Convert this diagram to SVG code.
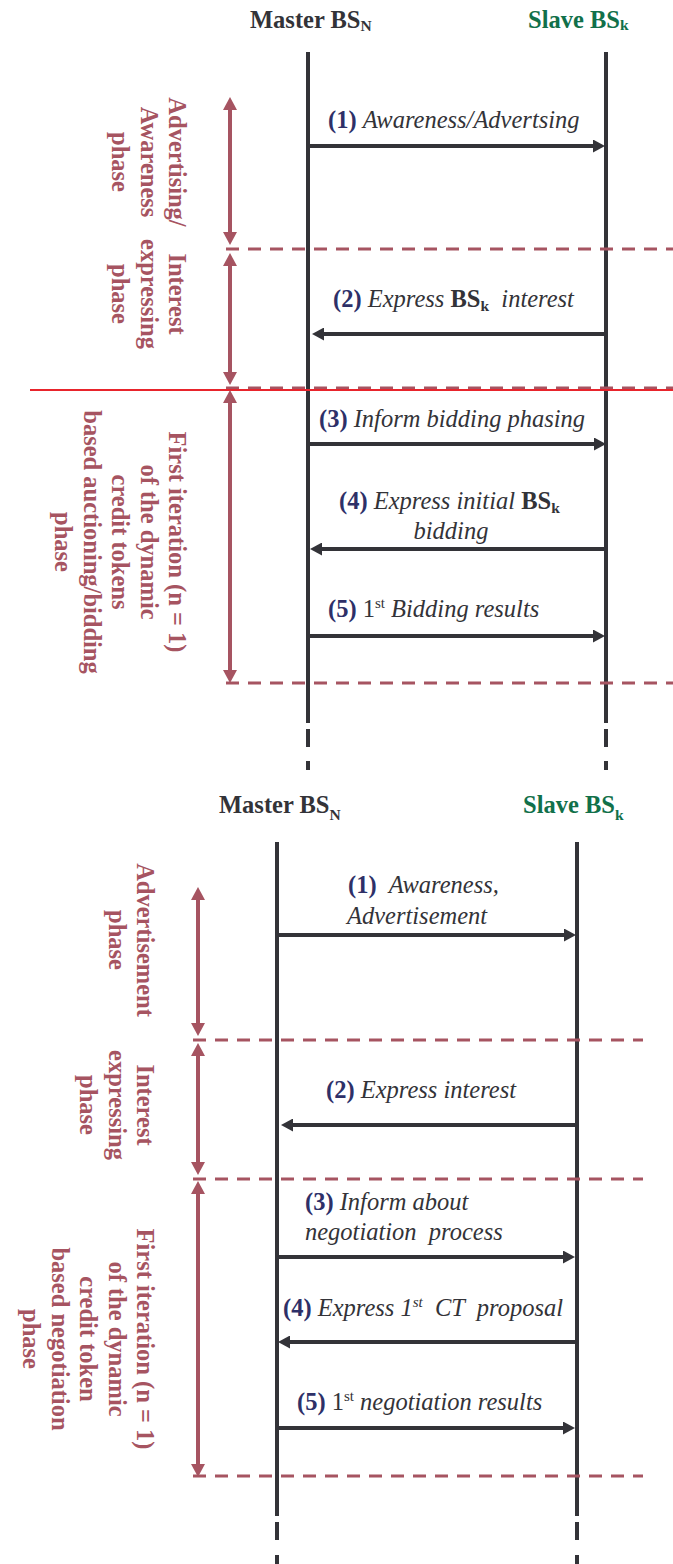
<svg xmlns="http://www.w3.org/2000/svg" width="673" height="1564" viewBox="0 0 673 1564">
<style>
text{font-family:"Liberation Serif","Times New Roman",serif;font-size:24.5px}
.hdr{font-weight:bold;fill:#333338}
.slv{font-weight:bold;fill:#11704a}
.ph{font-weight:bold;fill:#a65461}
.lbl{fill:#333338}
.num{font-weight:bold;font-style:normal;fill:#2e3068}
.it{font-style:italic}
.b{font-weight:bold;font-style:normal}
.life{stroke:#333338;stroke-width:4;fill:none}
.msg{stroke:#333338;stroke-width:4;fill:none;marker-end:url(#ah)}
.sep{stroke:#a65461;stroke-width:3;stroke-dasharray:13 9;fill:none}
.phase{stroke:#a65461;stroke-width:4;fill:none;marker-start:url(#ph);marker-end:url(#ph)}
</style>
<defs>
<marker id="ah" markerUnits="userSpaceOnUse" markerWidth="13" markerHeight="13" refX="4" refY="6.5" orient="auto"><path d="M0,0 L12,6.5 L0,13 z" fill="#333338"/></marker>
<marker id="ph" markerUnits="userSpaceOnUse" markerWidth="14" markerHeight="15" refX="4" refY="7" orient="auto-start-reverse"><path d="M0,0 L13,7 L0,14 z" fill="#a65461"/></marker>
</defs>

<g id="top-master">
<text class="hdr" x="250" y="28">Master BS<tspan font-size="15.5" dy="3">N</tspan></text>
<path class="life" d="M308,52 V723 M308,729 V747 M308,761 V770"/>
</g>
<g id="top-slave">
<text class="slv" x="528" y="28">Slave BS<tspan font-size="15.5" dy="2">k</tspan></text>
<path class="life" d="M606,52 V723 M606,729 V747 M606,761 V770"/>
</g>

<g id="top-phases">
<path class="sep" d="M226,249 H673 M226,388 H673 M226,683 H673"/>
<line x1="30" y1="390" x2="673" y2="390" stroke="#e8242c" stroke-width="2"/>
<path class="phase" d="M230,106 V236"/>
<path class="phase" d="M230,262 V376"/>
<path class="phase" d="M230,399 V674"/>
<text class="ph" text-anchor="middle" transform="translate(169,162) rotate(90)"><tspan x="0" y="0">Advertising/</tspan><tspan x="0" y="28.5">Awareness</tspan><tspan x="0" y="57">phase</tspan></text>
<text class="ph" text-anchor="middle" transform="translate(169,294) rotate(90)"><tspan x="0" y="0">Interest</tspan><tspan x="0" y="28.5">expressing</tspan><tspan x="0" y="57">phase</tspan></text>
<text class="ph" text-anchor="middle" transform="translate(169,542) rotate(90)"><tspan x="0" y="0">First iteration (n = 1)</tspan><tspan x="0" y="28.5">of the dynamic</tspan><tspan x="0" y="57">credit tokens</tspan><tspan x="0" y="85.5">based auctioning/bidding</tspan><tspan x="0" y="114">phase</tspan></text>
</g>

<g id="top-messages">
<line class="msg" x1="310" y1="146" x2="597" y2="146"/>
<line class="msg" x1="608" y1="334" x2="320" y2="334"/>
<line class="msg" x1="310" y1="444" x2="598" y2="444"/>
<line class="msg" x1="608" y1="549" x2="318" y2="549"/>
<line class="msg" x1="310" y1="636" x2="597" y2="636"/>
<text class="lbl" x="328" y="128"><tspan class="num">(1)</tspan> <tspan class="it">Awareness/Advertsing</tspan></text>
<text class="lbl" x="333" y="307" xml:space="preserve"><tspan class="num">(2)</tspan> <tspan class="it">Express</tspan> <tspan class="b">BS</tspan><tspan class="b" font-size="15.5" dy="4">k</tspan><tspan dy="-4">  </tspan><tspan class="it">interest</tspan></text>
<text class="lbl" x="319" y="427"><tspan class="num">(3)</tspan> <tspan class="it">Inform bidding phasing</tspan></text>
<text class="lbl" x="339" y="509"><tspan class="num">(4)</tspan> <tspan class="it">Express initial</tspan> <tspan class="b">BS</tspan><tspan class="b" font-size="15.5" dy="4">k</tspan></text>
<text class="lbl it" x="451" y="539" text-anchor="middle">bidding</text>
<text class="lbl" x="328" y="617"><tspan class="num">(5)</tspan> 1<tspan font-size="15" dy="-9">st</tspan><tspan dy="9"> </tspan><tspan class="it">Bidding results</tspan></text>
</g>

<g id="bottom-master">
<text class="hdr" x="219" y="813">Master BS<tspan font-size="15.5" dy="7">N</tspan></text>
<path class="life" d="M277,842 V1516 M277,1522 V1540 M277,1555 V1564"/>
</g>
<g id="bottom-slave">
<text class="slv" x="523" y="813">Slave BS<tspan font-size="15.5" dy="7">k</tspan></text>
<path class="life" d="M577,842 V1516 M577,1522 V1540 M577,1555 V1564"/>
</g>

<g id="bottom-phases">
<path class="sep" d="M193,1040 H643 M193,1179 H643 M193,1476 H643"/>
<path class="phase" d="M198,896 V1027"/>
<path class="phase" d="M198,1052 V1166"/>
<path class="phase" d="M198,1190 V1468"/>
<text class="ph" text-anchor="middle" transform="translate(137,940) rotate(90)"><tspan x="0" y="0">Advertisement</tspan><tspan x="0" y="28.5">phase</tspan></text>
<text class="ph" text-anchor="middle" transform="translate(137,1105) rotate(90)"><tspan x="0" y="0">Interest</tspan><tspan x="0" y="28.5">expressing</tspan><tspan x="0" y="57">phase</tspan></text>
<text class="ph" text-anchor="middle" transform="translate(137,1339) rotate(90)"><tspan x="0" y="0">First iteration (n = 1)</tspan><tspan x="0" y="28.5">of the dynamic</tspan><tspan x="0" y="57">credit token</tspan><tspan x="0" y="85.5">based negotiation</tspan><tspan x="0" y="114">phase</tspan></text>
</g>

<g id="bottom-messages">
<line class="msg" x1="279" y1="935" x2="568" y2="935"/>
<line class="msg" x1="579" y1="1125" x2="289" y2="1125"/>
<line class="msg" x1="279" y1="1257" x2="567" y2="1257"/>
<line class="msg" x1="579" y1="1342" x2="286" y2="1342"/>
<line class="msg" x1="279" y1="1428" x2="567" y2="1428"/>
<text class="lbl" x="348" y="893" xml:space="preserve"><tspan class="num">(1)</tspan>  <tspan class="it">Awareness,</tspan></text>
<text class="lbl it" x="347" y="924">Advertisement</text>
<text class="lbl" x="326" y="1098"><tspan class="num">(2)</tspan> <tspan class="it">Express interest</tspan></text>
<text class="lbl" x="305" y="1210"><tspan class="num">(3)</tspan> <tspan class="it">Inform about</tspan></text>
<text class="lbl it" x="305" y="1240" xml:space="preserve">negotiation  process</text>
<text class="lbl" x="283" y="1316" xml:space="preserve"><tspan class="num">(4)</tspan> <tspan class="it">Express 1</tspan><tspan class="it" font-size="15" dy="-9">st</tspan><tspan class="it" dy="9">  CT  proposal</tspan></text>
<text class="lbl" x="297" y="1410"><tspan class="num">(5)</tspan> 1<tspan font-size="15" dy="-9">st</tspan><tspan dy="9"> </tspan><tspan class="it">negotiation results</tspan></text>
</g>
</svg>
